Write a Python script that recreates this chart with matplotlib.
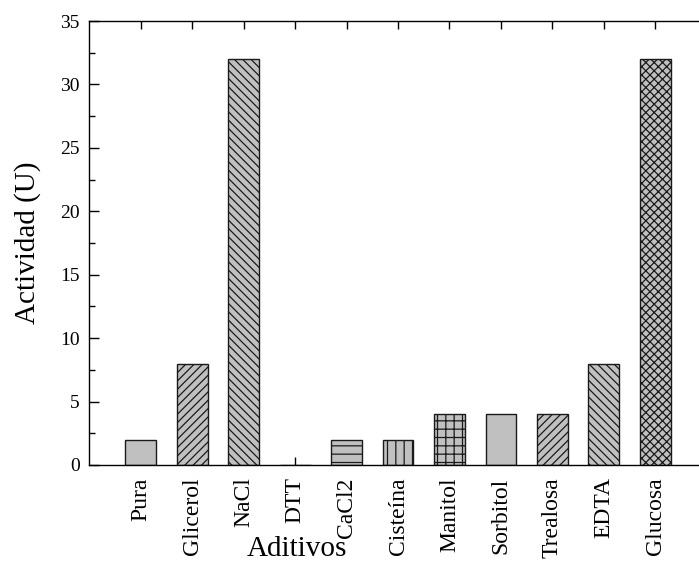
import numpy as np
import matplotlib
matplotlib.use('Agg')
import matplotlib.pyplot as plt
from matplotlib.ticker import MultipleLocator

plt.rcParams['font.family'] = ['Liberation Serif', 'DejaVu Serif']
plt.rcParams['hatch.linewidth'] = 0.9

# Actividad de la enzima con cada aditivo
aditivos = ['Pura', 'Glicerol', 'NaCl', 'DTT', 'CaCl2', 'Cisteína',
            'Manitol', 'Sorbitol', 'Trealosa', 'EDTA', 'Glucosa']
actividad = [2, 8, 32, 0, 2, 2, 4, 4, 4, 8, 32]
tramas = ['', '////', '\\\\\\\\', '', '--', '||', '++', '', '////', '\\\\\\\\', 'xxxx']

fig = plt.figure(figsize=(6.99, 5.65), dpi=100)
ax = fig.add_axes([0.1278, 0.177, 0.8833, 0.7858])
ax.set_axisbelow(True)

x = np.arange(len(aditivos))
barras = ax.bar(x, actividad, width=0.6, color='#c0c0c0',
                edgecolor='#1a1a1a', linewidth=1.0)
for b, h in zip(barras, tramas):
    b.set_hatch(h)

ax.set_xlim(-1, 11)
ax.set_ylim(0, 35)
ax.yaxis.set_major_locator(MultipleLocator(5))
ax.yaxis.set_minor_locator(MultipleLocator(2.5))
ax.set_xticks(x)
ax.set_xticklabels(aditivos, rotation=90, fontsize=17)

ax.tick_params(axis='x', direction='in', top=True, bottom=True,
               length=6, width=1, pad=9)
ax.tick_params(axis='y', which='major', direction='in', right=False,
               length=7, width=1, labelsize=14, pad=7)
ax.tick_params(axis='y', which='minor', direction='in', right=False,
               length=4, width=1)
for s in ax.spines.values():
    s.set_linewidth(1.0)

ax.set_ylabel('Actividad (U)', fontsize=21)
ax.yaxis.label.set_va('center')
ax.yaxis.set_label_coords(-0.1005, 0.5)
ax.set_xlabel('Aditivos', fontsize=21)
ax.xaxis.set_label_coords(0.336, -0.16)

fig.savefig('out.png', dpi=100)
